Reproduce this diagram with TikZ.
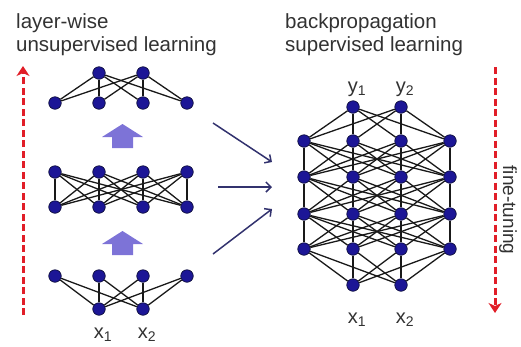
\documentclass[tikz,border=0pt]{standalone}
\usepackage{fontspec}
\setmainfont{Liberation Sans}
\usepackage{xcolor}
\usetikzlibrary{arrows.meta,backgrounds}
\definecolor{unitblue}{RGB}{28,22,150}
\definecolor{unitedge}{RGB}{15,15,60}
\definecolor{liftblue}{RGB}{125,115,215}
\definecolor{flowblue}{RGB}{50,50,110}
\definecolor{dashred}{RGB}{225,30,40}
\definecolor{textgray}{RGB}{50,50,50}
\tikzset{
  unit/.style={circle,fill=unitblue,draw=unitedge,line width=0.7pt,minimum size=12.5pt,inner sep=0pt},
  link/.style={line width=1.3pt,black!90},
  title/.style={font=\fontsize{20.5}{23}\selectfont,text=textgray,anchor=base west,inner sep=0pt},
  io/.style={font=\fontsize{20}{20}\selectfont,text=textgray,anchor=base,inner sep=0pt},
  phase/.style={dashred,line width=3pt,dash pattern=on 7pt off 3.5pt,-{Stealth[length=10pt,width=13pt,inset=3pt]}},
  feed/.style={flowblue,line width=1.5pt,-{Straight Barb[length=5pt,width=10pt]}},
  lift/.style={fill=liftblue},
}
\begin{document}
\begin{tikzpicture}[x=1pt,y=-1pt]
\useasboundingbox (0,0) rectangle (521,346);
% titles
\node[title] (ttlA1) at (16,28) {layer-wise};
\node[title] (ttlA2) at (16,51) {unsupervised learning};
\node[title] (ttlB1) at (285,28) {backpropagation};
\node[title] (ttlB2) at (285,51) {supervised learning};

% left: stacked pretraining blocks
\foreach \i/\x in {1/99,2/143} \node[unit] (a\i) at (\x,73) {};
\foreach \i/\x in {1/55,2/99,3/143,4/187}{
  \node[unit] (b\i) at (\x,103) {};
  \node[unit] (c\i) at (\x,172) {};
  \node[unit] (d\i) at (\x,207) {};
  \node[unit] (e\i) at (\x,276) {};
}
\foreach \i/\x in {1/99,2/143} \node[unit] (f\i) at (\x,309) {};
\begin{scope}[on background layer]
\foreach \i in {1,2} \foreach \j in {1,...,4}{
  \draw[link] (a\i) -- (b\j);
  \draw[link] (f\i) -- (e\j);
}
\foreach \i in {1,...,4} \foreach \j in {1,...,4} \draw[link] (c\i) -- (d\j);
\end{scope}
\node[io] (lx1) at (103,338) {x\textsubscript{1}};
\node[io] (lx2) at (147,338) {x\textsubscript{2}};

% fat arrows between blocks
\foreach \dy in {0,107}{
  \fill[lift] (102,137+\dy) -- (122.5,124+\dy) -- (143,137+\dy) -- (133,137+\dy)
    -- (133,148+\dy) -- (112,148+\dy) -- (112,137+\dy) -- cycle;
}

% right: the whole deep net
\foreach \i/\x in {1/353,2/401}{
  \node[unit] (out\i) at (\x,107) {};
  \node[unit] (in\i) at (\x,285) {};
}
\foreach \i/\x in {1/304,2/353,3/401,4/450}{
  \node[unit] (hA\i) at (\x,141) {};
  \node[unit] (hB\i) at (\x,177) {};
  \node[unit] (hC\i) at (\x,214) {};
  \node[unit] (hD\i) at (\x,249) {};
}
\begin{scope}[on background layer]
\foreach \i in {1,2} \foreach \j in {1,...,4}{
  \draw[link] (out\i) -- (hA\j);
  \draw[link] (in\i) -- (hD\j);
}
\foreach \u/\l in {hA/hB,hB/hC,hC/hD}
  \foreach \i in {1,...,4} \foreach \j in {1,...,4} \draw[link] (\u\i) -- (\l\j);
\end{scope}
\node[io] (ry1) at (357,92) {y\textsubscript{1}};
\node[io] (ry2) at (405,92) {y\textsubscript{2}};
\node[io] (rx1) at (357,323) {x\textsubscript{1}};
\node[io] (rx2) at (405,323) {x\textsubscript{2}};

% blocks feed the deep net
\coordinate (fromA) at (213,123);
\coordinate (fromB) at (218,187);
\coordinate (fromC) at (213,254);
\coordinate (toA) at (272,162);
\coordinate (toB) at (272,187);
\coordinate (toC) at (272,209);
\draw[feed] (fromA) -- (toA);
\draw[feed] (fromB) -- (toB);
\draw[feed] (fromC) -- (toC);

% direction of training
\coordinate (upS) at (23,315);
\coordinate (upE) at (23,66);
\coordinate (dnS) at (495,67);
\coordinate (dnE) at (495,313);
\draw[phase] (upS) -- (upE);
\draw[phase] (dnS) -- (dnE);
\node[font=\fontsize{19}{19}\selectfont,text=textgray,rotate=-90,inner sep=0pt] (tune) at (508,210) {fine-tuning};
\end{tikzpicture}
\end{document}
